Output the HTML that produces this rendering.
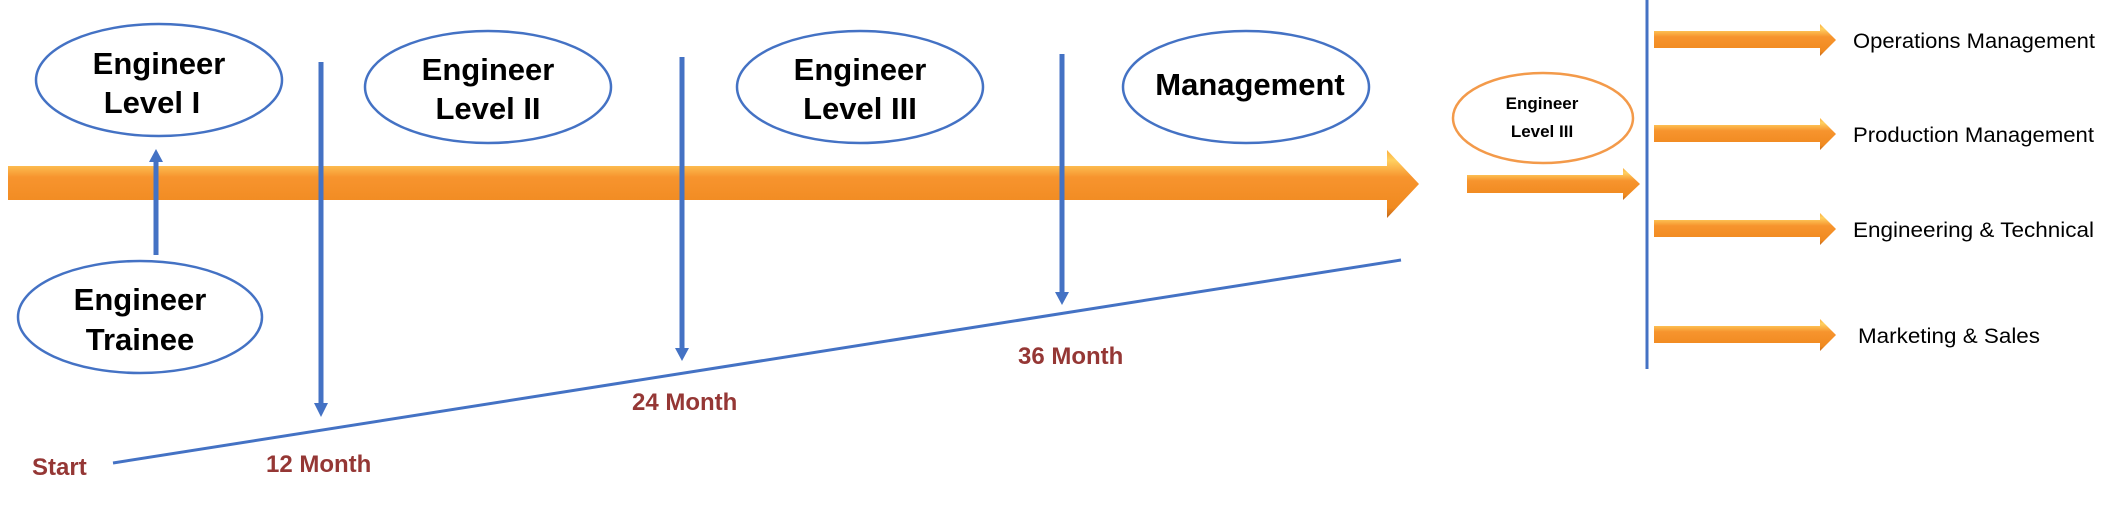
<!DOCTYPE html>
<html><head><meta charset="utf-8"><style>
html,body{margin:0;padding:0;background:#fff;}
svg{display:block}
.b{font-family:"Liberation Sans",sans-serif;font-weight:bold;fill:#000;text-anchor:middle}
.m{font-family:"Liberation Sans",sans-serif;font-weight:bold;fill:#953735;font-size:24px}
.r{font-family:"Liberation Sans",sans-serif;fill:#000;font-size:21px}
</style></head><body>
<svg width="2115" height="505" viewBox="0 0 2115 505" xmlns="http://www.w3.org/2000/svg">
<defs>
<linearGradient id="og" x1="0" y1="0" x2="0" y2="1">
<stop offset="0" stop-color="#fbb040"/><stop offset="0.15" stop-color="#ffd060"/><stop offset="0.4" stop-color="#f7942e"/><stop offset="0.85" stop-color="#f08a20"/><stop offset="1" stop-color="#c0661a"/>
</linearGradient>
</defs>
<polygon points="8,166 1387,166 1387,150 1419,184 1387,218 1387,200 8,200" fill="url(#og)"/>
<line x1="113" y1="463" x2="1401" y2="260" stroke="#4472c4" stroke-width="3"/>
<g stroke="#4472c4" stroke-width="5" fill="#4472c4">
<line x1="156" y1="255" x2="156" y2="160"/>
<line x1="321" y1="62" x2="321" y2="405"/>
<line x1="682" y1="57" x2="682" y2="350"/>
<line x1="1062" y1="54" x2="1062" y2="295"/>
</g>
<g fill="#4472c4">
<polygon points="149,162 163,162 156,149"/>
<polygon points="314,403 328,403 321,417"/>
<polygon points="675,348 689,348 682,361"/>
<polygon points="1055,292 1069,292 1062,305"/>
</g>
<g fill="#fff" stroke="#4472c4" stroke-width="2.5">
<ellipse cx="159" cy="80" rx="123" ry="56"/>
<ellipse cx="140" cy="317" rx="122" ry="56"/>
<ellipse cx="488" cy="87" rx="123" ry="56"/>
<ellipse cx="860" cy="87" rx="123" ry="56"/>
<ellipse cx="1246" cy="87" rx="123" ry="56"/>
</g>
<ellipse cx="1543" cy="118" rx="90" ry="45" fill="#fff" stroke="#f39a4a" stroke-width="2.5"/>
<g class="b" font-size="31">
<text x="159" y="74">Engineer</text><text x="152" y="113">Level I</text>
<text x="140" y="310">Engineer</text><text x="140" y="350">Trainee</text>
<text x="488" y="80">Engineer</text><text x="488" y="119">Level II</text>
<text x="860" y="80">Engineer</text><text x="860" y="119">Level III</text>
<text x="1250" y="95">Management</text>
</g>
<g class="b" font-size="17">
<text x="1542" y="109">Engineer</text><text x="1542" y="137">Level III</text>
</g>
<text class="m" x="32" y="475">Start</text>
<text class="m" x="266" y="472">12 Month</text>
<text class="m" x="632" y="410">24 Month</text>
<text class="m" x="1018" y="364">36 Month</text>
<polygon points="1467,175 1623,175 1623,168 1640,184 1623,200 1623,193 1467,193" fill="url(#og)"/>
<line x1="1647" y1="0" x2="1647" y2="369" stroke="#4472c4" stroke-width="3"/>
<g fill="url(#og)">
<polygon points="1654,31 1820,31 1820,24 1836,40 1820,56 1820,48 1654,48"/>
<polygon points="1654,125 1820,125 1820,118 1836,134 1820,150 1820,142 1654,142"/>
<polygon points="1654,220 1820,220 1820,213 1836,229 1820,245 1820,237 1654,237"/>
<polygon points="1654,326 1820,326 1820,319 1836,335 1820,351 1820,343 1654,343"/>
</g>
<text class="r" x="1853" y="48" textLength="242" lengthAdjust="spacingAndGlyphs">Operations Management</text>
<text class="r" x="1853" y="142" textLength="241" lengthAdjust="spacingAndGlyphs">Production Management</text>
<text class="r" x="1853" y="237" textLength="241" lengthAdjust="spacingAndGlyphs">Engineering &amp; Technical</text>
<text class="r" x="1858" y="343" textLength="182" lengthAdjust="spacingAndGlyphs">Marketing &amp; Sales</text>
</svg>
</body></html>
